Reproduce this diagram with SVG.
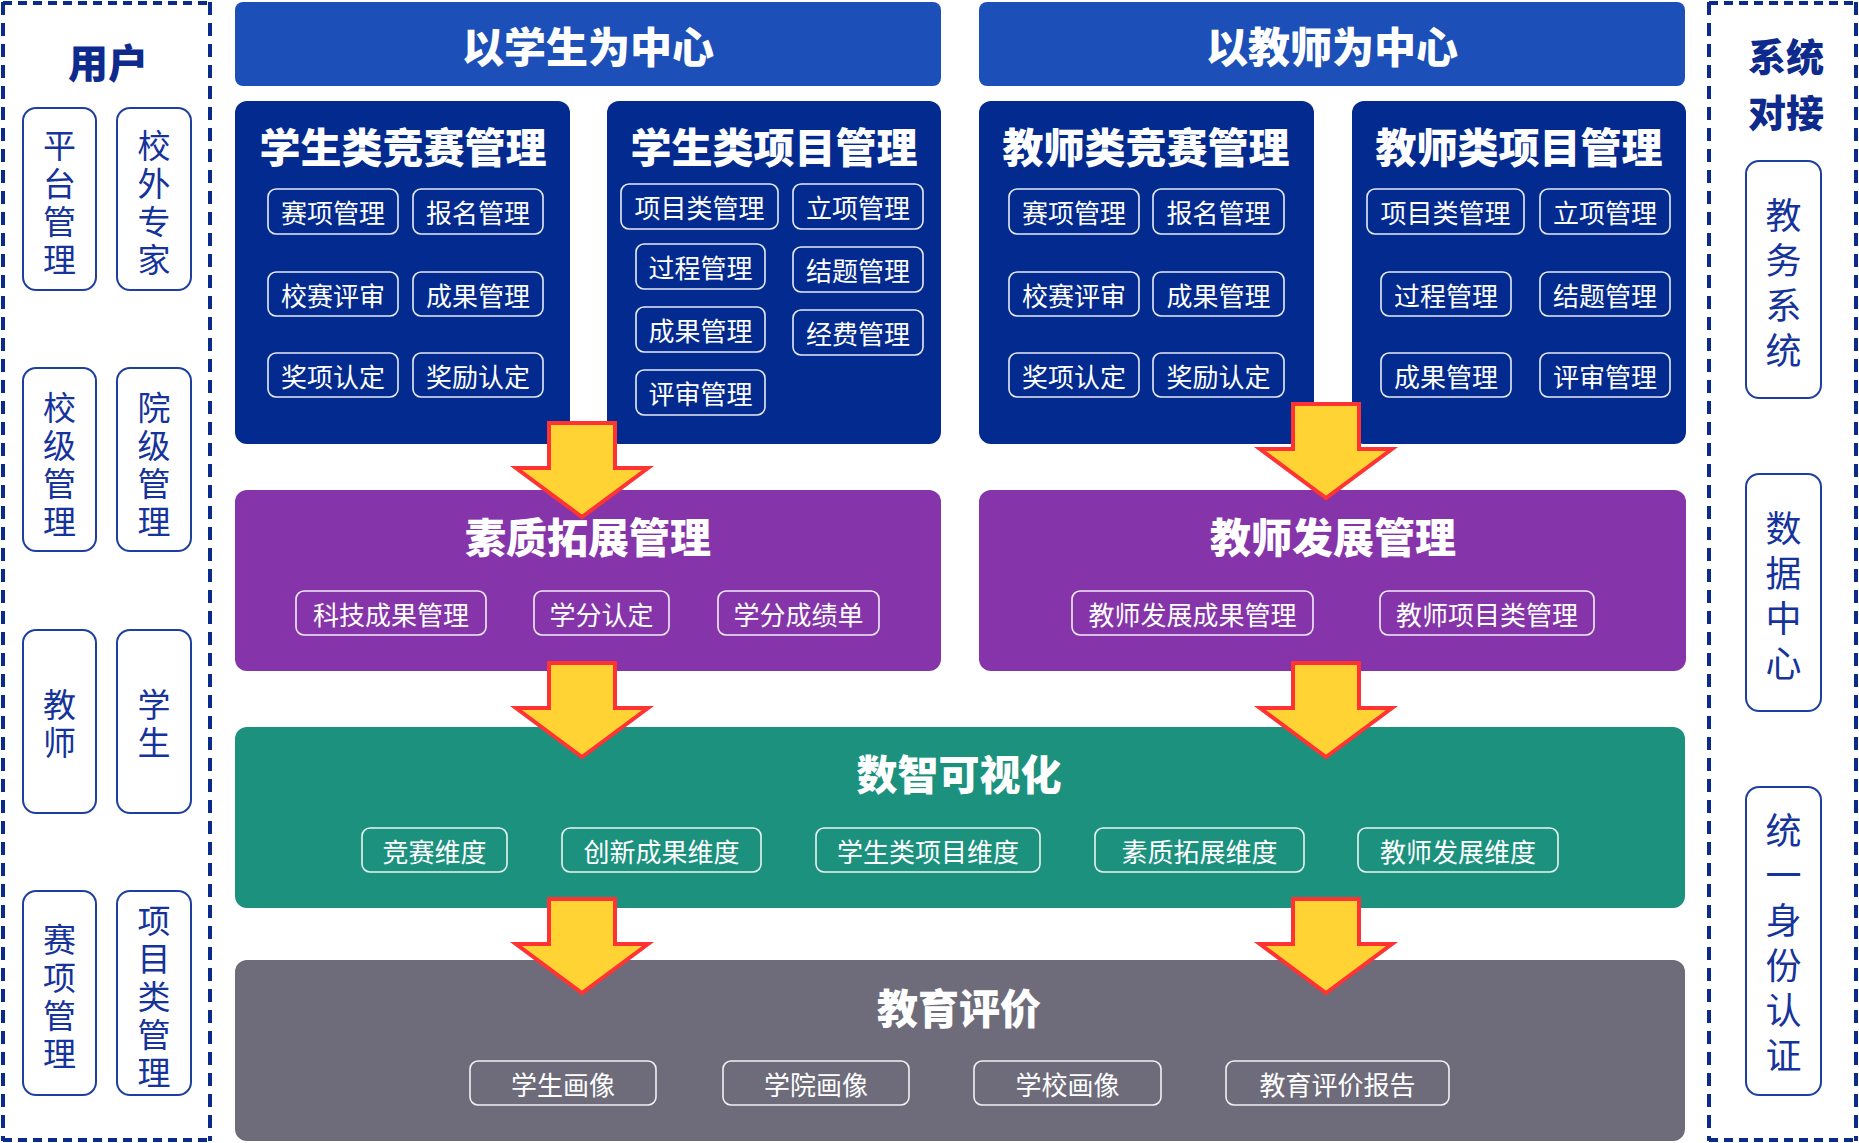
<svg xmlns="http://www.w3.org/2000/svg" width="1859" height="1143" viewBox="0 0 1859 1143">
<defs>
<style>
text{font-family:"Noto Sans CJK SC","Noto Sans",sans-serif;text-anchor:middle;dominant-baseline:central}
.bg{fill:#ffffff}
.dash-v{stroke:#0a2a8c;stroke-width:4;stroke-dasharray:13 8;fill:none}
.dash-h{stroke:#0a2a8c;stroke-width:4;stroke-dasharray:9 6;fill:none}
.side-title{fill:#0d2a8c;font-size:40px;font-weight:900}
.side-title2{fill:#0d2a8c;font-size:38px;font-weight:900}
.card{fill:#ffffff;stroke:#1e3f9e;stroke-width:2}
.ucard-t{fill:#15339a;font-size:33px;writing-mode:vertical-rl;text-orientation:upright;letter-spacing:5px}
.scard-t{fill:#15339a;font-size:36px;writing-mode:vertical-rl;text-orientation:upright;letter-spacing:9px}
.header{fill:#1c4fb8}
.header-t{fill:#ffffff;font-size:42px;font-weight:900}
.dark{fill:#032a8e}
.purple{fill:#8634aa}
.green{fill:#1b917e}
.gray{fill:#6e6c7b}
.ptitle{fill:#ffffff;font-size:41px;font-weight:900}
.item{fill:none;stroke:#ffffff;stroke-width:1.6;stroke-opacity:0.9}
.item-t{fill:#ffffff;font-size:26px}
.arrow{fill:#ffd333;stroke:#ff3333;stroke-width:4;stroke-linejoin:miter}
</style>
<path id="arr" d="M-33,0 H33 V45 H66 L0,94 L-66,45 H-33 Z"/>
</defs>
<rect class="bg" x="0" y="0" width="1859" height="1143"/>

<g id="users">
<line class="dash-v" x1="3" y1="2" x2="3" y2="1141"/>
<line class="dash-v" x1="210" y1="2" x2="210" y2="1141"/>
<line class="dash-h" x1="3" y1="3" x2="210" y2="3"/>
<line class="dash-h" x1="3" y1="1140" x2="210" y2="1140"/>
<text class="side-title" x="108" y="61">用户</text>
<g id="u-platform"><rect class="card" x="23" y="108" width="73" height="182" rx="13"/>
<text class="ucard-t" x="59.5" y="205">平台管理</text></g>
<g id="u-expert"><rect class="card" x="117" y="108" width="74" height="182" rx="13"/>
<text class="ucard-t" x="154" y="205">校外专家</text></g>
<g id="u-school"><rect class="card" x="23" y="368" width="73" height="183" rx="13"/>
<text class="ucard-t" x="59.5" y="467">校级管理</text></g>
<g id="u-college"><rect class="card" x="117" y="368" width="74" height="183" rx="13"/>
<text class="ucard-t" x="154" y="467">院级管理</text></g>
<g id="u-teacher"><rect class="card" x="23" y="630" width="73" height="183" rx="13"/>
<text class="ucard-t" x="59.5" y="726">教师</text></g>
<g id="u-student"><rect class="card" x="117" y="630" width="74" height="183" rx="13"/>
<text class="ucard-t" x="154" y="726">学生</text></g>
<g id="u-event"><rect class="card" x="23" y="891" width="73" height="204" rx="13"/>
<text class="ucard-t" x="59.5" y="999">赛项管理</text></g>
<g id="u-project"><rect class="card" x="117" y="891" width="74" height="204" rx="13"/>
<text class="ucard-t" x="154" y="999">项目类管理</text></g>
</g>

<g id="systems">
<line class="dash-v" x1="1709" y1="2" x2="1709" y2="1141"/>
<line class="dash-v" x1="1856" y1="2" x2="1856" y2="1141"/>
<line class="dash-h" x1="1709" y1="3" x2="1856" y2="3"/>
<line class="dash-h" x1="1709" y1="1140" x2="1856" y2="1140"/>
<text class="side-title2" x="1786" y="54">系统</text>
<text class="side-title2" x="1786" y="110">对接</text>
<g id="s-academic"><rect class="card" x="1746" y="161" width="75" height="237" rx="13"/>
<text class="scard-t" x="1783.5" y="287">教务系统</text></g>
<g id="s-data"><rect class="card" x="1746" y="474" width="75" height="237" rx="13"/>
<text class="scard-t" x="1783.5" y="600">数据中心</text></g>
<g id="s-auth"><rect class="card" x="1746" y="787" width="75" height="308" rx="13"/>
<text class="scard-t" x="1783.5" y="947">统一身份认证</text></g>
</g>

<g id="header-student"><rect class="header" x="235" y="2" width="706" height="84" rx="8"/>
<text class="header-t" x="588" y="44">以学生为中心</text></g>
<g id="header-teacher"><rect class="header" x="979" y="2" width="706" height="84" rx="8"/>
<text class="header-t" x="1332" y="44">以教师为中心</text></g>

<g id="student-contest"><rect class="dark" x="235" y="101" width="335" height="343" rx="12"/>
<text class="ptitle" x="403" y="145">学生类竞赛管理</text>
<rect class="item" x="268" y="189" width="130" height="45" rx="8"/><text class="item-t" x="333" y="211.5">赛项管理</text>
<rect class="item" x="413" y="189" width="130" height="45" rx="8"/><text class="item-t" x="478" y="211.5">报名管理</text>
<rect class="item" x="268" y="272" width="130" height="44" rx="8"/><text class="item-t" x="333" y="294">校赛评审</text>
<rect class="item" x="413" y="272" width="130" height="44" rx="8"/><text class="item-t" x="478" y="294">成果管理</text>
<rect class="item" x="268" y="353" width="130" height="44" rx="8"/><text class="item-t" x="333" y="375">奖项认定</text>
<rect class="item" x="413" y="353" width="130" height="44" rx="8"/><text class="item-t" x="478" y="375">奖励认定</text>
</g>

<g id="student-project"><rect class="dark" x="607" y="101" width="334" height="343" rx="12"/>
<text class="ptitle" x="774" y="145">学生类项目管理</text>
<rect class="item" x="621" y="184" width="157" height="45" rx="8"/><text class="item-t" x="699.5" y="206.5">项目类管理</text>
<rect class="item" x="793" y="184" width="130" height="45" rx="8"/><text class="item-t" x="858" y="206.5">立项管理</text>
<rect class="item" x="636" y="244" width="129" height="45" rx="8"/><text class="item-t" x="700.5" y="266.5">过程管理</text>
<rect class="item" x="793" y="247" width="130" height="45" rx="8"/><text class="item-t" x="858" y="269.5">结题管理</text>
<rect class="item" x="636" y="307" width="129" height="45" rx="8"/><text class="item-t" x="700.5" y="329.5">成果管理</text>
<rect class="item" x="793" y="310" width="130" height="45" rx="8"/><text class="item-t" x="858" y="332.5">经费管理</text>
<rect class="item" x="636" y="370" width="129" height="45" rx="8"/><text class="item-t" x="700.5" y="392.5">评审管理</text>
</g>

<g id="teacher-contest"><rect class="dark" x="979" y="101" width="335" height="343" rx="12"/>
<text class="ptitle" x="1146" y="145">教师类竞赛管理</text>
<rect class="item" x="1009" y="189" width="130" height="45" rx="8"/><text class="item-t" x="1074" y="211.5">赛项管理</text>
<rect class="item" x="1153" y="189" width="131" height="45" rx="8"/><text class="item-t" x="1218.5" y="211.5">报名管理</text>
<rect class="item" x="1009" y="272" width="130" height="44" rx="8"/><text class="item-t" x="1074" y="294">校赛评审</text>
<rect class="item" x="1153" y="272" width="131" height="44" rx="8"/><text class="item-t" x="1218.5" y="294">成果管理</text>
<rect class="item" x="1009" y="353" width="130" height="44" rx="8"/><text class="item-t" x="1074" y="375">奖项认定</text>
<rect class="item" x="1153" y="353" width="131" height="44" rx="8"/><text class="item-t" x="1218.5" y="375">奖励认定</text>
</g>

<g id="teacher-project"><rect class="dark" x="1352" y="101" width="334" height="343" rx="12"/>
<text class="ptitle" x="1519" y="145">教师类项目管理</text>
<rect class="item" x="1367" y="189" width="157" height="45" rx="8"/><text class="item-t" x="1445.5" y="211.5">项目类管理</text>
<rect class="item" x="1540" y="189" width="130" height="45" rx="8"/><text class="item-t" x="1605" y="211.5">立项管理</text>
<rect class="item" x="1381" y="272" width="130" height="44" rx="8"/><text class="item-t" x="1446" y="294">过程管理</text>
<rect class="item" x="1540" y="272" width="130" height="44" rx="8"/><text class="item-t" x="1605" y="294">结题管理</text>
<rect class="item" x="1381" y="353" width="130" height="44" rx="8"/><text class="item-t" x="1446" y="375">成果管理</text>
<rect class="item" x="1540" y="353" width="130" height="44" rx="8"/><text class="item-t" x="1605" y="375">评审管理</text>
</g>

<g id="quality"><rect class="purple" x="235" y="490" width="706" height="181" rx="12"/>
<text class="ptitle" x="588" y="535">素质拓展管理</text>
<rect class="item" x="296" y="591" width="190" height="44" rx="8"/><text class="item-t" x="391" y="613">科技成果管理</text>
<rect class="item" x="534" y="591" width="135" height="44" rx="8"/><text class="item-t" x="601.5" y="613">学分认定</text>
<rect class="item" x="718" y="591" width="161" height="44" rx="8"/><text class="item-t" x="798.5" y="613">学分成绩单</text>
</g>

<g id="teacher-dev"><rect class="purple" x="979" y="490" width="707" height="181" rx="12"/>
<text class="ptitle" x="1333" y="535">教师发展管理</text>
<rect class="item" x="1072" y="591" width="241" height="44" rx="8"/><text class="item-t" x="1192.5" y="613">教师发展成果管理</text>
<rect class="item" x="1380" y="591" width="214" height="44" rx="8"/><text class="item-t" x="1487" y="613">教师项目类管理</text>
</g>

<g id="visual"><rect class="green" x="235" y="727" width="1450" height="181" rx="12"/>
<text class="ptitle" x="959" y="772">数智可视化</text>
<rect class="item" x="362" y="828" width="145" height="44" rx="8"/><text class="item-t" x="434.5" y="850">竞赛维度</text>
<rect class="item" x="562" y="828" width="199" height="44" rx="8"/><text class="item-t" x="661.5" y="850">创新成果维度</text>
<rect class="item" x="816" y="828" width="224" height="44" rx="8"/><text class="item-t" x="928" y="850">学生类项目维度</text>
<rect class="item" x="1095" y="828" width="209" height="44" rx="8"/><text class="item-t" x="1199.5" y="850">素质拓展维度</text>
<rect class="item" x="1358" y="828" width="200" height="44" rx="8"/><text class="item-t" x="1458" y="850">教师发展维度</text>
</g>

<g id="evaluation"><rect class="gray" x="235" y="960" width="1450" height="181" rx="12"/>
<text class="ptitle" x="959" y="1006">教育评价</text>
<rect class="item" x="470" y="1061" width="186" height="44" rx="8"/><text class="item-t" x="563" y="1083">学生画像</text>
<rect class="item" x="723" y="1061" width="186" height="44" rx="8"/><text class="item-t" x="816" y="1083">学院画像</text>
<rect class="item" x="974" y="1061" width="187" height="44" rx="8"/><text class="item-t" x="1067.5" y="1083">学校画像</text>
<rect class="item" x="1226" y="1061" width="223" height="44" rx="8"/><text class="item-t" x="1337.5" y="1083">教育评价报告</text>
</g>

<g id="connectors">
<use href="#arr" class="arrow" x="582" y="423"/>
<use href="#arr" class="arrow" x="1326" y="404"/>
<use href="#arr" class="arrow" x="582" y="663"/>
<use href="#arr" class="arrow" x="1326" y="663"/>
<use href="#arr" class="arrow" x="582" y="899"/>
<use href="#arr" class="arrow" x="1326" y="899"/>
</g>
</svg>
